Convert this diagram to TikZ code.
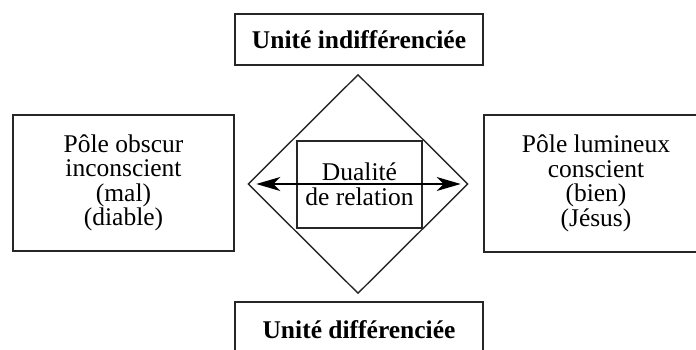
\documentclass[tikz,border=0pt]{standalone}
\usepackage{fontspec}
\setmainfont{Liberation Serif}
\usetikzlibrary{shapes.geometric,arrows.meta}
\begin{document}
\begin{tikzpicture}[x=1pt,y=-1pt,
  boxstyle/.style={draw=black!85,line width=1.7pt,rectangle,inner sep=0pt,align=center,
    font=\fontsize{25.5}{24.5}\selectfont},
  titlestyle/.style={boxstyle,font=\fontsize{25.5}{24.5}\selectfont\bfseries},
  diastyle/.style={draw=black!85,line width=1.4pt,diamond,inner sep=0pt},
  innerstyle/.style={draw=black!85,line width=1.5pt,rectangle,inner sep=0pt,align=center,
    font=\fontsize{25.5}{25}\selectfont},
  arrowstyle/.style={line width=1.2pt,{Stealth[length=24pt,width=14pt,inset=7pt]}-{Stealth[length=24pt,width=14pt,inset=7pt]}}
]
\useasboundingbox (0,0) rectangle (696,350);
\clip (0,0) rectangle (696,350);
\node[titlestyle,minimum width=248pt,minimum height=51pt] (top) at (359,39.5) {Unité indifférenciée};
\node[titlestyle,minimum width=248pt,minimum height=56pt] (bot) at (359,330) {Unité différenciée};
\node[boxstyle,minimum width=221pt,minimum height=136pt] (left) at (123.5,183) {Pôle obscur\\inconscient\\(mal)\\(diable)};
\node[boxstyle,minimum width=224pt,minimum height=137pt] (right) at (596,183.5) {Pôle lumineux\\conscient\\(bien)\\(Jésus)};
\node[diastyle,minimum width=220pt,minimum height=219pt] (dia) at (358,184) {};
\node[innerstyle,minimum width=125pt,minimum height=87pt] (rel) at (359.5,184.5) {Dualité\\de relation};
\draw[arrowstyle] ([xshift=9pt]dia.west) -- ([xshift=-8pt]dia.east);
\end{tikzpicture}
\end{document}
